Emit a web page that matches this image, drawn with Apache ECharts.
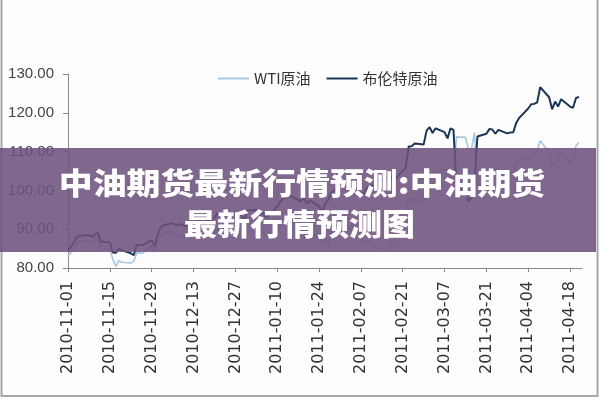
<!DOCTYPE html>
<html><head><meta charset="utf-8">
<script src="https://cdn.jsdelivr.net/npm/echarts@6/dist/echarts.min.js"></script>
<style>html,body{margin:0;padding:0;background:#fdfdfd}#c{width:600px;height:400px}</style>
</head><body><div id="c"></div>
<script>
var seriesNames = ['WTI原油', '布伦特原油'];
var titleLines = ['中油期货最新行情预测:中油期货', '最新行情预测图'];
var tickDates = ['2010-11-01','2010-11-15','2010-11-29','2010-12-13','2010-12-27','2011-01-10','2011-01-24','2011-02-07','2011-02-21','2011-03-07','2011-03-21','2011-04-04','2011-04-18'];
var dates = [
'2010-11-01','2010-11-02','2010-11-03','2010-11-04','2010-11-05',
'2010-11-08','2010-11-09','2010-11-10','2010-11-11','2010-11-12',
'2010-11-15','2010-11-16','2010-11-17','2010-11-18','2010-11-19',
'2010-11-22','2010-11-23','2010-11-24','2010-11-26',
'2010-11-29','2010-11-30','2010-12-01','2010-12-02','2010-12-03',
'2010-12-06','2010-12-07','2010-12-08','2010-12-09','2010-12-10',
'2010-12-13','2010-12-14','2010-12-15','2010-12-16','2010-12-17',
'2010-12-20','2010-12-21','2010-12-22','2010-12-23',
'2010-12-27','2010-12-28','2010-12-29','2010-12-30','2010-12-31',
'2011-01-03','2011-01-04','2011-01-05','2011-01-06','2011-01-07',
'2011-01-10','2011-01-11','2011-01-12','2011-01-13','2011-01-14',
'2011-01-18','2011-01-19','2011-01-20','2011-01-21',
'2011-01-24','2011-01-25','2011-01-26','2011-01-27','2011-01-28',
'2011-01-31','2011-02-01','2011-02-02','2011-02-03','2011-02-04',
'2011-02-07','2011-02-08','2011-02-09','2011-02-10','2011-02-11',
'2011-02-14','2011-02-15','2011-02-16','2011-02-17','2011-02-18',
'2011-02-22','2011-02-23','2011-02-24','2011-02-25',
'2011-02-28','2011-03-01','2011-03-02','2011-03-03','2011-03-04',
'2011-03-07','2011-03-08','2011-03-09','2011-03-10','2011-03-11',
'2011-03-14','2011-03-15','2011-03-16','2011-03-17','2011-03-18',
'2011-03-21','2011-03-22','2011-03-23','2011-03-24','2011-03-25',
'2011-03-28','2011-03-29','2011-03-30','2011-03-31','2011-04-01',
'2011-04-04','2011-04-05','2011-04-06','2011-04-07','2011-04-08',
'2011-04-11','2011-04-12','2011-04-13','2011-04-14','2011-04-15',
'2011-04-18','2011-04-19','2011-04-20','2011-04-21'
];
var wti = [
83.0, 84.0, 84.7, 86.5, 86.9,
87.1, 86.7, 87.8, 87.8, 84.9,
84.9, 82.3, 80.4, 81.9, 81.5,
81.3, 81.7, 83.9, 83.8,
85.7, 84.1, 86.8, 88.0, 89.2,
89.4, 88.7, 88.3, 88.4, 87.8,
88.6, 88.3, 88.6, 87.7, 88.0,
88.8, 89.8, 90.5, 90.8,
91.0, 91.5, 91.1, 89.8, 91.4,
91.6, 89.4, 90.3, 88.4, 88.0,
89.3, 91.1, 91.9, 91.4, 91.5,
91.4, 90.9, 88.9, 89.1,
87.9, 86.2, 87.3, 85.6, 89.3,
92.2, 90.8, 90.9, 90.5, 89.0,
87.5, 86.9, 86.7, 86.7, 85.6,
84.8, 84.3, 85.0, 86.4, 86.2,
93.6, 98.1, 97.3, 97.9,
97.0, 99.6, 101.9, 101.2, 104.4,
105.4, 105.0, 104.4, 102.7, 113.8,
113.7, 110.6, 110.6, 114.9, 101.1,
102.3, 104.0, 105.8, 105.6, 105.4,
104.0, 104.8, 104.3, 106.7, 107.9,
108.5, 108.3, 108.8, 110.3, 112.8,
109.9, 106.3, 107.1, 108.1, 109.7,
107.1, 108.2, 111.5, 112.3
];
var brent = [
84.3, 85.5, 86.6, 88.0, 88.3,
88.5, 88.0, 88.6, 89.2, 86.8,
86.6, 84.0, 83.9, 85.0, 84.6,
83.8, 83.3, 85.9, 85.9,
87.2, 85.6, 88.5, 90.5, 91.0,
91.6, 91.0, 91.3, 91.2, 90.8,
91.5, 92.0, 92.3, 91.6, 92.0,
93.0, 94.0, 94.0, 93.5,
93.8, 94.5, 93.6, 92.5, 94.8,
95.0, 93.5, 94.5, 93.3, 93.3,
95.8, 97.0, 98.0, 98.0, 98.7,
97.2, 98.0, 96.6, 97.4,
95.9, 94.5, 96.4, 97.4, 99.4,
101.0, 101.7, 102.3, 102.1, 99.2,
99.3, 99.0, 100.7, 100.6, 101.3,
103.0, 101.6, 103.8, 103.5, 102.5,
105.8, 111.3, 111.4, 112.1,
111.8, 115.4, 116.3, 114.8, 116.0,
115.0, 113.4, 116.0, 115.6, 101.2,
100.2, 97.2, 98.0, 101.4, 113.9,
114.6, 115.8, 115.7, 114.6, 115.6,
114.7, 114.9, 115.0, 117.4, 118.7,
121.1, 122.2, 122.3, 122.7, 126.6,
124.0, 120.9, 122.9, 121.6, 123.5,
121.6, 121.3, 123.8, 124.1
];

var DAY = 86400000;
var origin = Date.UTC(2010, 10, 1);
function toDay(s) { var p = s.split('-'); return Math.round((Date.UTC(+p[0], +p[1] - 1, +p[2]) - origin) / DAY); }
function toDate(d) { var t = new Date(origin + d * DAY); var m = t.getUTCMonth() + 1, dd = t.getUTCDate(); return t.getUTCFullYear() + '-' + (m < 10 ? '0' : '') + m + '-' + (dd < 10 ? '0' : '') + dd; }
var tickDays = tickDates.map(toDay);
function pairs(vals) { return dates.map(function (d, i) { return [toDay(d), vals[i]]; }); }

var chart = echarts.init(document.getElementById('c'), null, { renderer: 'canvas' });
chart.setOption({
  backgroundColor: '#fdfdfd',
  animation: false,
  legend: {
    left: 213, top: 66, itemWidth: 31, itemHeight: 2, itemGap: 16, icon: 'rect',
    textStyle: { fontSize: 15, color: '#333', fontFamily: 'Noto Sans CJK SC' },
    data: seriesNames
  },
  grid: { left: 68, right: 18, top: 74, bottom: 132, containLabel: false, outerBoundsMode: 'none' },
  xAxis: {
    type: 'value', min: 0, max: 172,
    axisLine: { lineStyle: { color: '#8a8a8a', width: 1 } },
    axisTick: { show: true, length: 4, lineStyle: { color: '#8a8a8a' }, customValues: tickDays },
    splitLine: { show: false },
    axisLabel: {
      customValues: tickDays, rotate: 90, margin: 13,
      fontFamily: 'DejaVu Sans', fontSize: 16, color: '#333',
      formatter: function (v) { return toDate(v); }
    }
  },
  yAxis: {
    type: 'value', min: 80, max: 130, interval: 10,
    axisLine: { show: true, lineStyle: { color: '#8a8a8a', width: 1 } },
    axisTick: { show: true, length: 5, lineStyle: { color: '#8a8a8a' } },
    splitLine: { show: false },
    axisLabel: {
      margin: 14, fontFamily: 'Liberation Sans', fontSize: 15, color: '#444',
      formatter: function (v) { return v.toFixed(2); }
    }
  },
  series: [
    { name: seriesNames[0], type: 'line', showSymbol: false, symbol: 'none', data: pairs(wti),
      lineStyle: { color: '#a8c8e2', width: 1.6 }, itemStyle: { color: '#a8c8e2' } },
    { name: seriesNames[1], type: 'line', showSymbol: false, symbol: 'none', data: pairs(brent),
      lineStyle: { color: '#1b3553', width: 2 }, itemStyle: { color: '#1b3553' } }
  ],
  graphic: [
    { type: 'rect', z: 90, silent: true, shape: { x: 1.5, y: -5, width: 596, height: 401 },
      style: { fill: 'none', stroke: '#a8a8a8', lineWidth: 2 } },
    { type: 'rect', z: 100, silent: true, shape: { x: 0, y: 148, width: 596, height: 104 },
      style: { fill: 'rgba(110,82,125,0.88)' } },
    { type: 'text', z: 101, silent: true, x: 302, y: 182.5, scaleX: 1.13,
      style: { text: titleLines[0], fill: '#ffffff', font: '900 30px "Noto Sans CJK SC"', align: 'center', verticalAlign: 'middle' } },
    { type: 'text', z: 101, silent: true, x: 299.5, y: 224, scaleX: 1.1,
      style: { text: titleLines[1], fill: '#ffffff', font: '900 30px "Noto Sans CJK SC"', align: 'center', verticalAlign: 'middle' } }
  ]
});
</script></body></html>
